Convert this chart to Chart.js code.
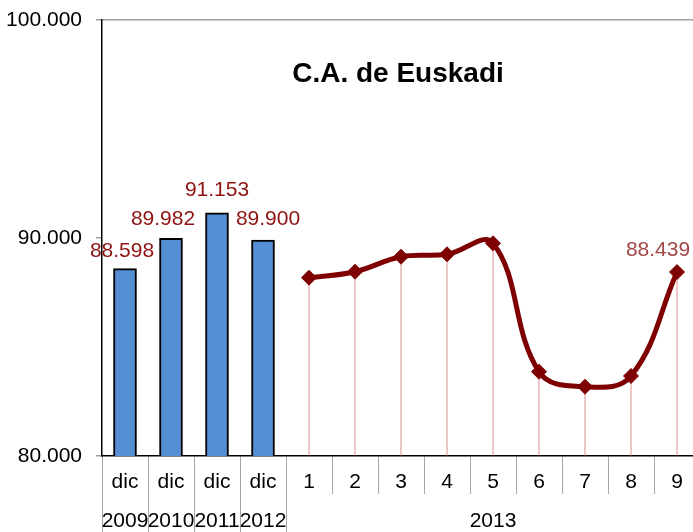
<!DOCTYPE html>
<html>
<head>
<meta charset="utf-8">
<script src="https://cdn.jsdelivr.net/npm/chart.js@4"></script>
<style>
  html, body { margin: 0; padding: 0; background: #fff; overflow: hidden; }
  #wrap { width: 700px; height: 532px; }
</style>
</head>
<body>
<div id="wrap"><canvas id="c" width="700" height="532"></canvas></div>
<script>
// ---- Data ----
const categories   = ['dic', 'dic', 'dic', 'dic', '1', '2', '3', '4', '5', '6', '7', '8', '9'];
const yearLabels   = ['2009', '2010', '2011', '2012', '', '', '', '', '2013', '', '', '', ''];
const annualValues = [88598, 89982, 91153, 89900, null, null, null, null, null, null, null, null, null];
const monthlyValues = [null, null, null, null, 88179, 88454, 89142, 89252, 89757, 83867, 83179, 83670, 88439];
const yTicks = [80000, 90000, 100000];
const titleText = 'C.A. de Euskadi';

const FONT = '"Liberation Sans", Arial, sans-serif';
Chart.defaults.font.family = FONT;
Chart.defaults.color = '#000';

function fmt(v) {
  return String(Math.round(v)).replace(/\B(?=(\d{3})+(?!\d))/g, '.');
}

const labelPlugin = {
  id: 'valueLabels',
  afterDatasetsDraw(chart) {
    const ctx = chart.ctx;
    ctx.save();
    ctx.font = '21px ' + FONT;
    ctx.textAlign = 'center';
    ctx.textBaseline = 'middle';
    const nudges = [[-3, -17], [-8, -19], [0, -23], [5, -21]];
    const barMeta = chart.getDatasetMeta(0);
    barMeta.data.forEach((el, i) => {
      const v = annualValues[i];
      if (v == null) return;
      const n = nudges[i] || [0, -20];
      ctx.fillStyle = '#8E1212';
      ctx.fillText(fmt(v), el.x + n[0], el.y + n[1]);
    });
    const lineMeta = chart.getDatasetMeta(2);
    const last = monthlyValues.length - 1;
    const p = lineMeta.data[last];
    ctx.fillStyle = '#A04646';
    ctx.fillText(fmt(monthlyValues[last]), p.x - 19, p.y - 22);
    ctx.restore();
  }
};

const titlePlugin = {
  id: 'innerTitle',
  afterDraw(chart) {
    const ctx = chart.ctx;
    const a = chart.chartArea;
    ctx.save();
    ctx.font = 'bold 28px ' + FONT;
    ctx.fillStyle = '#000';
    ctx.textAlign = 'center';
    ctx.textBaseline = 'middle';
    ctx.fillText(titleText, (a.left + a.right) / 2 - 3, a.top + 54);
    ctx.restore();
  }
};

function zeroPad(s) {
  s.paddingLeft = 0; s.paddingRight = 0; s.paddingTop = 0; s.paddingBottom = 0;
}

new Chart(document.getElementById('c'), {
  type: 'bar',
  data: {
    labels: categories,
    datasets: [
      {
        type: 'bar',
        data: annualValues,
        xAxisID: 'x', yAxisID: 'y',
        backgroundColor: '#558ED5',
        borderColor: '#000',
        borderWidth: 2,
        borderSkipped: false,
        barThickness: 23,
        grouped: false,
        order: 1
      },
      {
        type: 'bar',
        data: monthlyValues,
        xAxisID: 'x', yAxisID: 'y',
        backgroundColor: 'rgba(205,90,90,0.4)',
        borderWidth: 0,
        barThickness: 1,
        grouped: false,
        order: 2
      },
      {
        type: 'line',
        data: monthlyValues,
        xAxisID: 'x', yAxisID: 'y',
        borderColor: '#7F0000',
        backgroundColor: '#7F0000',
        borderWidth: 5,
        tension: 0.4,
        fill: false,
        pointStyle: 'rectRot',
        pointRadius: 7.5,
        pointHoverRadius: 7.5,
        pointBackgroundColor: '#7F0000',
        pointBorderColor: '#7F0000',
        pointBorderWidth: 1,
        order: 0
      }
    ]
  },
  options: {
    responsive: false,
    animation: false,
    events: [],
    layout: { autoPadding: false, padding: { top: 20, left: 0, right: 0, bottom: 0 } },
    plugins: { legend: { display: false }, tooltip: { enabled: false }, title: { display: false } },
    scales: {
      x: {
        type: 'category',
        position: 'bottom',
        weight: 0,
        offset: true,
        grid: { offset: true, drawOnChartArea: false, tickLength: 38, tickColor: '#A6A6A6', lineWidth: 1 },
        border: { display: true, color: '#000', width: 1.5 },
        ticks: { autoSkip: false, maxRotation: 0, padding: -24, font: { size: 21 }, color: '#000' },
        afterFit: s => { s.height = 38; zeroPad(s); }
      },
      x2: {
        type: 'category',
        labels: yearLabels,
        position: 'bottom',
        weight: 1,
        offset: true,
        grid: {
          offset: true, drawOnChartArea: false, tickLength: 38, lineWidth: 1,
          tickColor: ctx => (ctx.index <= 4 ? '#A6A6A6' : 'rgba(0,0,0,0)')
        },
        border: { display: false },
        ticks: { autoSkip: false, maxRotation: 0, padding: -23, font: { size: 21 }, color: '#000' },
        afterFit: s => { s.height = 38; zeroPad(s); }
      },
      y: {
        type: 'linear',
        position: 'left',
        min: yTicks[0],
        max: yTicks[yTicks.length - 1],
        ticks: {
          stepSize: yTicks[1] - yTicks[0],
          padding: 14,
          font: { size: 21 },
          color: '#000',
          callback: v => fmt(v)
        },
        grid: {
          tickLength: 6,
          tickColor: '#A0A0A0',
          color: ctx => (ctx.tick && ctx.tick.value === yTicks[yTicks.length - 1] ? '#A0A0A0' : 'rgba(0,0,0,0)'),
          lineWidth: 1.5
        },
        border: { display: true, color: '#000', width: 1.5 },
        afterFit: s => { s.width = 102; zeroPad(s); }
      }
    }
  },
  plugins: [labelPlugin, titlePlugin]
});
</script>
</body>
</html>
